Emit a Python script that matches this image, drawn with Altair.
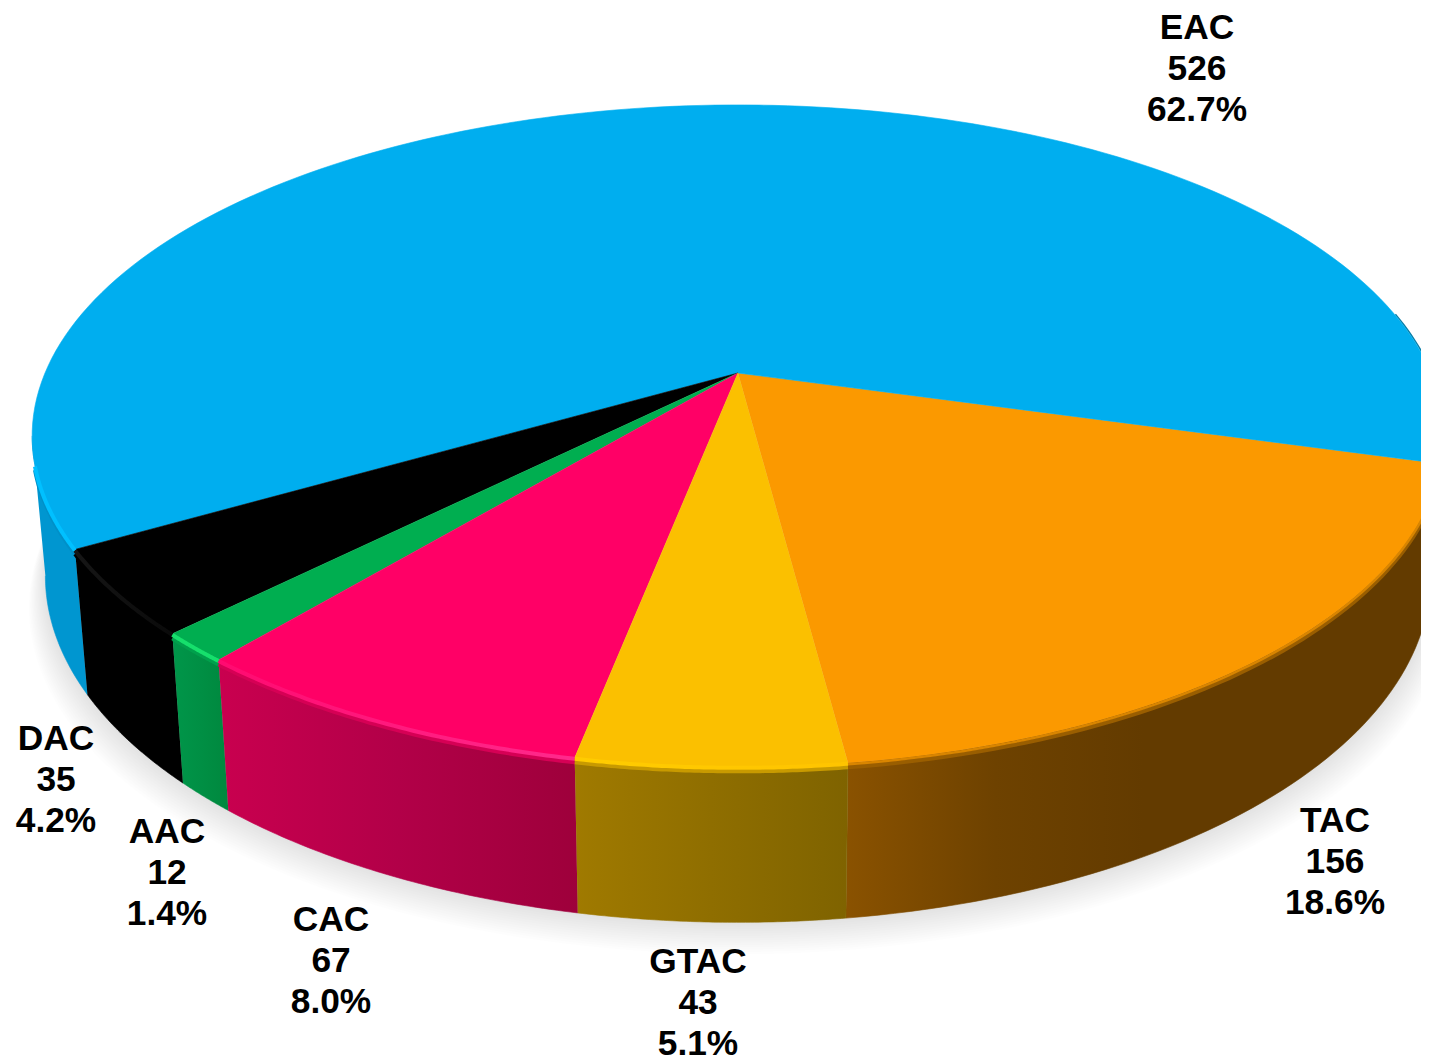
import altair as alt
import numpy as np
import pandas as pd

# ---- data ----
categories = ["TAC", "EAC", "DAC", "AAC", "CAC", "GTAC"]
counts = [156, 526, 35, 12, 67, 43]
percents = ["18.6", "62.7", "4.2", "1.4", "8.0", "5.1"]

# ---- styles ----
top_colors = ["#FB9900", "#00AEEF", "#000000", "#00AE50", "#FF0066", "#FBC000"]
wall_stops = [
    [("#8A5200", 0), ("#6E4200", 0.25), ("#633B00", 0.5), ("#633B00", 1)],
    [("#0096D0", 0), ("#0096D0", 1)],
    [("#000000", 0), ("#000000", 1)],
    [("#00964A", 0), ("#00883E", 1)],
    [("#C9004F", 0), ("#B20048", 0.5), ("#9E003B", 1)],
    [("#A07A00", 0), ("#8F6E00", 0.5), ("#7F6300", 1)],
]
rim_stops = [
    [("#C07500", 0), ("#C07500", 1)],
    [("#00C0FF", 0), ("#00C0FF", 1)],
    [("#161616", 0), ("#0A0A0A", 1)],
    [("#16E06C", 0), ("#16E06C", 1)],
    [("#FF0A70", 0), ("#FF2A8C", 1)],
    [("#FFCC00", 0), ("#FFC400", 1)],
]
blend_colors = ["#9A5E00", "#0090C8", "#000000", "#00A04C", "#D60055", "#C89A00"]

# first-line centres of the labels, in the picture's pixel frame
label_centres = {
    "TAC": (1335, 821), "EAC": (1197, 28), "DAC": (56, 739),
    "AAC": (167, 832), "CAC": (331, 920), "GTAC": (698, 962),
}

# view of the tilted disc (perspective model)
APEX_X, APEX_Y = 738, 373
START_DEG = 7.4
K = 0.19
TOP_A, TOP_B = 693, 319
BOT_A, BOT_B, BOT_DY = 680, 334, 137
W, H = 1413, 1053
TANGENT = np.degrees(np.arccos(K))


def project(theta_deg, a, b, dy=0.0):
    t = np.radians(theta_deg)
    sx, sy = np.sin(t), np.cos(t)
    den = 1 - K * sy
    return APEX_X + a * sx / den, APEX_Y + dy + b * sy / den


def gradient(stops):
    return alt.Gradient(
        gradient="linear", x1=0, x2=1, y1=0, y2=0,
        stops=[alt.GradientStop(color=c, offset=o) for c, o in stops],
    )


X = alt.X("x:Q", axis=None, scale=alt.Scale(domain=[8, 8 + W], nice=False, zero=False))
Y = alt.Y("y:Q", axis=None, scale=alt.Scale(domain=[8 + H, 8], nice=False, zero=False))


def poly(xs, ys, fill, stroke=None, **kw):
    df = pd.DataFrame({"x": xs, "y": ys, "o": np.arange(len(xs))})
    return alt.Chart(df).mark_line(
        fill=fill, stroke=stroke if stroke is not None else fill,
        strokeWidth=0.6, clip=True, interpolate="linear", **kw
    ).encode(x=X, y=Y, order=alt.Order("o:Q"))


def stroke_line(xs, ys, color, width, **kw):
    df = pd.DataFrame({"x": xs, "y": ys, "o": np.arange(len(xs))})
    return alt.Chart(df).mark_line(
        stroke=color, strokeWidth=width, clip=True, strokeCap="butt", **kw
    ).encode(x=X, y=Y, order=alt.Order("o:Q"))


total = sum(counts)
spans = [c / total * 360 for c in counts]
edges = START_DEG + np.concatenate([[0], np.cumsum(spans)])

layers = []

# soft ground shadow
ring = np.linspace(0, 360, 241)
n_shadow = 14
for i in range(n_shadow, 0, -1):
    f = i / n_shadow
    bx, by = project(ring, BOT_A, BOT_B, BOT_DY)
    sxs = APEX_X + (bx - APEX_X) * (1 + 0.024 * f)
    sys = by + 32 * f
    layers.append(
        alt.Chart(pd.DataFrame({"x": sxs, "y": sys, "o": np.arange(len(sxs))}))
        .mark_line(fill="#000000", fillOpacity=0.0085, strokeWidth=0, stroke="transparent", clip=True)
        .encode(x=X, y=Y, order=alt.Order("o:Q"))
    )

# side walls (only the part of each slice that faces the viewer)
for i, cat in enumerate(categories):
    a0, a1 = edges[i], edges[i + 1]
    if cat == "EAC":
        pieces = [(a0, TANGENT), (360 - TANGENT, a1)]
    else:
        pieces = [(a0, a1)]
    for p0, p1 in pieces:
        th = np.linspace(p0, p1, 60)
        tx, ty = project(th, TOP_A, TOP_B)
        bx, by = project(th[::-1], BOT_A, BOT_B, BOT_DY)
        layers.append(poly(np.r_[tx, bx], np.r_[ty, by], gradient(wall_stops[i])))

# thin dark lip at the far right of the big slice
th = np.linspace(90, 101, 12)
ex, ey = project(th, TOP_A + 1, TOP_B)
layers.append(stroke_line(ex, ey, "#0A7FA8", 1.5))

# top surface
for i, cat in enumerate(categories):
    th = np.linspace(edges[i], edges[i + 1], 160)
    tx, ty = project(th, TOP_A, TOP_B)
    layers.append(poly(np.r_[APEX_X, tx], np.r_[APEX_Y, ty], top_colors[i]))

# bevel between top and wall
for i, cat in enumerate(categories):
    a0, a1 = edges[i], edges[i + 1]
    if cat == "EAC":
        a0 = 360 - TANGENT + 5
    th = np.linspace(a0, a1, 60)
    tx, ty = project(th, TOP_A, TOP_B)
    layers.append(stroke_line(tx, ty + 4.5, blend_colors[i], 4))
    if cat == "TAC":
        layers.append(stroke_line(tx, ty + 1.5, "#D98500", 2.5))
    else:
        layers.append(stroke_line(tx, ty + 1, gradient(rim_stops[i]), 4))

# labels
labels = pd.DataFrame({
    "text": [f"{c}\n{n}\n{p}%" for c, n, p in zip(categories, counts, percents)],
    "x": [label_centres[c][0] for c in categories],
    "y": [label_centres[c][1] for c in categories],
})
layers.append(
    alt.Chart(labels).mark_text(
        font="Liberation Sans", fontWeight="bold", fontSize=35.3,
        lineBreak="\n", lineHeight=41, align="center", baseline="middle", color="#000000",
    ).encode(x=X, y=Y, text="text:N")
)

chart = alt.layer(*layers).properties(
    width=W, height=H, padding=0, background="#FFFFFF",
    autosize=alt.AutoSizeParams(type="none"),
).configure_view(stroke=None)

chart.save("out.html", embed_options={"renderer": "svg", "actions": False})
